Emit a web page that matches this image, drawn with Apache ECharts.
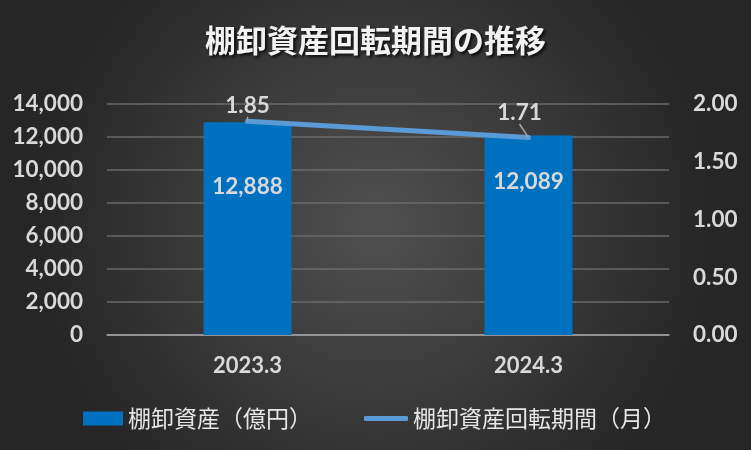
<!DOCTYPE html>
<html>
<head>
<meta charset="utf-8">
<script src="https://cdn.jsdelivr.net/npm/echarts@6/dist/echarts.min.js"></script>
<style>html,body{margin:0;padding:0;background:#333;}#c{width:751px;height:450px;}</style>
</head>
<body>
<div id="c"></div>
<script>
const titleText = '棚卸資産回転期間の推移';
const categories = ['2023.3', '2024.3'];
const inventory = [12888, 12089];
const turnoverMonths = [1.85, 1.71];
const barName = '棚卸資産（億円）';
const lineName = '棚卸資産回転期間（月）';

const numFont = 'Lato, "Liberation Sans", sans-serif';
const cjkFont = '"Noto Sans CJK JP", sans-serif';
const txt = '#D9D9D9';

const chart = echarts.init(document.getElementById('c'));
chart.setOption({
  animation: false,
  backgroundColor: {
    type: 'radial', x: 0.5, y: 0.5, r: 0.75,
    colorStops: [{offset: 0, color: '#505050'}, {offset: 1, color: '#262626'}]
  },
  title: {
    text: titleText, left: 'center', top: 20,
    textStyle: {
      color: '#F2F2F2', fontSize: 31, fontWeight: 'bold', fontFamily: cjkFont,
      textShadowColor: 'rgba(0,0,0,0.8)', textShadowBlur: 3, textShadowOffsetX: 2, textShadowOffsetY: 2
    }
  },
  legend: [
    {
      left: 78, top: 402, itemWidth: 40, itemHeight: 14,
      textStyle: {color: '#E6E6E6', fontSize: 23, fontFamily: cjkFont},
      data: [{name: barName, icon: 'rect'}]
    },
    {
      left: 359, top: 402, itemWidth: 44, itemHeight: 5,
      textStyle: {color: '#E6E6E6', fontSize: 23, fontFamily: cjkFont},
      data: [{name: lineName, icon: 'roundRect'}]
    }
  ],
  grid: {left: 107, right: 82, top: 104, bottom: 115},
  xAxis: {
    type: 'category', data: categories,
    axisTick: {show: false},
    axisLine: {lineStyle: {color: '#A6A6A6', width: 1.5}},
    axisLabel: {color: txt, fontSize: 22, fontWeight: 'bold', fontFamily: numFont, margin: 20}
  },
  yAxis: [
    {
      type: 'value', min: 0, max: 14000, interval: 2000,
      axisLine: {show: false}, axisTick: {show: false},
      splitLine: {lineStyle: {color: '#6A6A6A', width: 1.5}},
      axisLabel: {
        color: txt, fontSize: 22.5, fontWeight: 'bold', fontFamily: numFont, margin: 24,
        formatter: v => v.toLocaleString('en-US')
      }
    },
    {
      type: 'value', min: 0, max: 2, interval: 0.5,
      axisLine: {show: false}, axisTick: {show: false}, splitLine: {show: false},
      axisLabel: {
        color: txt, fontSize: 22.5, fontWeight: 'bold', fontFamily: numFont, margin: 24,
        formatter: v => v.toFixed(2)
      }
    }
  ],
  series: [
    {
      name: barName, type: 'bar', barWidth: 88, yAxisIndex: 0,
      itemStyle: {color: '#0070C0'},
      data: inventory.map((v, i) => ({
        value: v,
        label: {distance: i === 0 ? 53 : 35}
      })),
      label: {
        show: true, position: 'insideTop', color: txt, fontSize: 22.5, fontWeight: 'bold', fontFamily: numFont,
        formatter: p => p.value.toLocaleString('en-US')
      }
    },
    {
      name: lineName, type: 'line', yAxisIndex: 1,
      symbol: 'circle', symbolSize: 1, showSymbol: true,
      lineStyle: {color: '#5B9BD5', width: 5, cap: 'round'},
      itemStyle: {color: '#5B9BD5'},
      data: turnoverMonths,
      label: {
        show: true, position: 'top', distance: 4, color: txt, fontSize: 22.5, fontWeight: 'bold', fontFamily: numFont,
        formatter: p => p.value.toFixed(2)
      },
      labelLine: {show: true, lineStyle: {color: '#A6A6A6', width: 1.5}},
      labelLayout: function (params) {
        if (params.dataIndex === 1) return {dx: -9, dy: -9};
        return {};
      }
    }
  ]
});
</script>
</body>
</html>
